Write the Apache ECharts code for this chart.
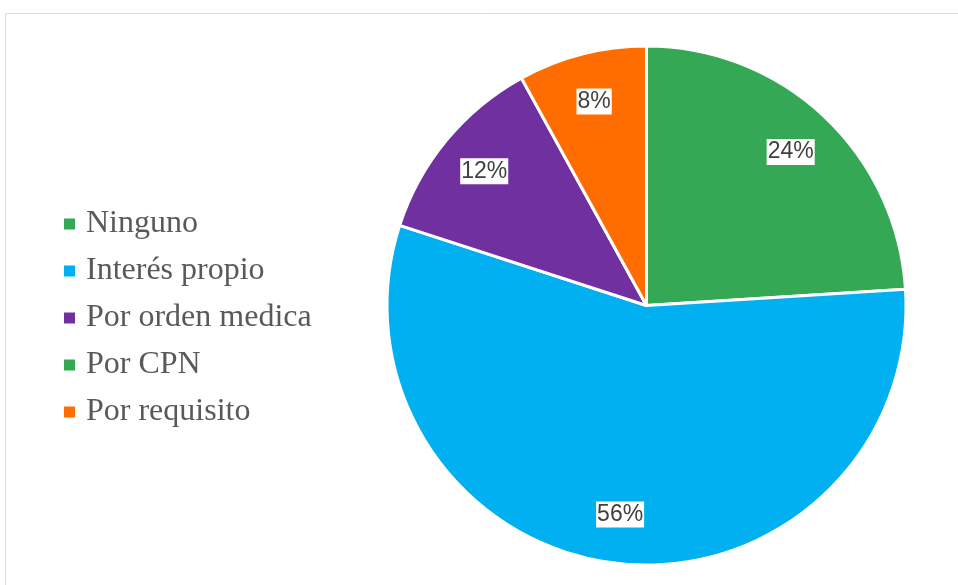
<!DOCTYPE html>
<html>
<head>
<meta charset="utf-8">
<script src="https://cdn.jsdelivr.net/npm/echarts@6/dist/echarts.min.js"></script>
<style>
  html, body { margin: 0; padding: 0; background: #ffffff; }
  #chart { width: 958px; height: 585px; }
</style>
</head>
<body>
<div id="chart"></div>
<script>
// Motivo de la consulta (porcentaje de respuestas)
const categories = ['Ninguno', 'Interés propio', 'Por orden medica', 'Por CPN', 'Por requisito'];
const percentValues = [24, 56, 12, 0, 8];
const sliceColors = ['#35A855', '#00B0F0', '#7030A0', '#35A855', '#FF6D00'];

const pieData = categories.map((name, i) => ({
  name: name,
  value: percentValues[i],
  itemStyle: { color: sliceColors[i] },
  label: { show: percentValues[i] > 0 }
}));

const R = 259.5;
const center = [646.5, 305.5];

const chart = echarts.init(document.getElementById('chart'), null, { renderer: 'canvas' });
chart.setOption({
  animation: false,
  backgroundColor: '#ffffff',
  graphic: [{
    type: 'rect',
    shape: { x: 5.5, y: 13.5, width: 1200, height: 1200 },
    style: { fill: 'none', stroke: '#d9d9d9', lineWidth: 1 },
    silent: true
  }],
  legend: {
    orient: 'vertical',
    left: 59,
    top: 203,
    itemWidth: 11,
    itemHeight: 11,
    itemGap: 15,
    icon: 'rect',
    data: categories,
    itemStyle: { borderWidth: 0 },
    textStyle: {
      fontFamily: '"Liberation Serif", "Times New Roman", serif',
      fontSize: 32,
      lineHeight: 32,
      color: '#595959',
      padding: [0, 0, 0, 6]
    }
  },
  series: [
    {
      type: 'pie',
      center: center,
      radius: [0, R],
      startAngle: 90,
      clockwise: true,
      avoidLabelOverlap: false,
      label: { show: false },
      labelLine: { show: false },
      emphasis: { disabled: true },
      itemStyle: { borderColor: '#ffffff', borderWidth: 3 },
      data: pieData.map(d => ({ name: d.name, value: d.value, itemStyle: d.itemStyle }))
    },
    {
      // transparent ring that carries the percentage labels
      type: 'pie',
      center: center,
      radius: [R * 0.6, R],
      startAngle: 90,
      clockwise: true,
      silent: true,
      avoidLabelOverlap: false,
      itemStyle: { color: 'rgba(0,0,0,0)', borderWidth: 0 },
      labelLine: { show: false },
      emphasis: { disabled: true },
      label: {
        show: true,
        position: 'inside',
        formatter: p => p.value + '%',
        fontFamily: '"Liberation Sans", Arial, sans-serif',
        fontSize: 23,
        color: '#404040',
        backgroundColor: '#ffffff',
        padding: [2, 1, 1, 1]
      },
      data: pieData.map(d => ({ name: d.name, value: d.value, label: d.label, itemStyle: { color: 'rgba(0,0,0,0)' } }))
    }
  ]
});
</script>
</body>
</html>
